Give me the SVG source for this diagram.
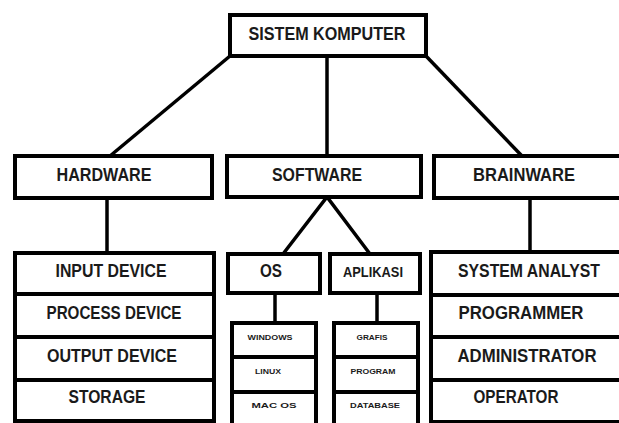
<svg xmlns="http://www.w3.org/2000/svg" width="619" height="423" viewBox="0 0 619 423">
<style>
.box{fill:#fff;stroke:#000;stroke-width:4;stroke-linejoin:miter}
.ln{stroke:#000;stroke-width:3.5;fill:none}
.t{font-family:"Liberation Sans",Arial,sans-serif;font-weight:bold;fill:#1a1a1a;text-anchor:middle;font-size:18px}
.s{font-family:"Liberation Sans",Arial,sans-serif;font-weight:bold;fill:#1a1a1a;text-anchor:middle;font-size:8px}
</style>
<rect width="619" height="423" fill="#fff"/>
<g id="connectors">
<line class="ln" x1="230" y1="56" x2="110" y2="156"/>
<line class="ln" x1="327" y1="56" x2="327" y2="156"/>
<line class="ln" x1="426" y1="56" x2="522" y2="156"/>
<line class="ln" x1="107" y1="198" x2="107" y2="253"/>
<polyline class="ln" points="283,254 327,197 370,254"/>
<line class="ln" x1="275" y1="293" x2="275" y2="323"/>
<line class="ln" x1="377" y1="293" x2="377" y2="323"/>
<line class="ln" x1="530" y1="198" x2="530" y2="252"/>
</g>
<g id="sistem-komputer"><rect class="box" x="230" y="15" width="196" height="41"/><text class="t" x="327" y="40" textLength="157" lengthAdjust="spacingAndGlyphs">SISTEM KOMPUTER</text></g>
<g id="hardware"><rect class="box" x="15" y="156" width="197" height="42"/><text class="t" x="104" y="181" textLength="95" lengthAdjust="spacingAndGlyphs">HARDWARE</text></g>
<g id="software"><rect class="box" x="227" y="156" width="194" height="41"/><text class="t" x="317" y="181" textLength="90" lengthAdjust="spacingAndGlyphs">SOFTWARE</text></g>
<g id="brainware"><rect class="box" x="434" y="156" width="195" height="42"/><text class="t" x="524" y="181" textLength="102" lengthAdjust="spacingAndGlyphs">BRAINWARE</text></g>
<g id="hardware-list">
<rect class="box" x="15" y="253" width="199" height="41"/><text class="t" x="111" y="277" textLength="111" lengthAdjust="spacingAndGlyphs">INPUT DEVICE</text>
<rect class="box" x="15" y="294" width="199" height="43"/><text class="t" x="114" y="319" textLength="135" lengthAdjust="spacingAndGlyphs">PROCESS DEVICE</text>
<rect class="box" x="15" y="337" width="199" height="43"/><text class="t" x="112" y="362" textLength="130" lengthAdjust="spacingAndGlyphs">OUTPUT DEVICE</text>
<rect class="box" x="15" y="380" width="199" height="41"/><text class="t" x="107" y="403" textLength="77" lengthAdjust="spacingAndGlyphs">STORAGE</text>
</g>
<g id="os"><rect class="box" x="228" y="254" width="92" height="39"/><text class="t" x="271" y="277" textLength="22" lengthAdjust="spacingAndGlyphs">OS</text></g>
<g id="aplikasi"><rect class="box" x="330" y="254" width="90" height="39"/><text class="t" x="373" y="277" style="font-size:15px" textLength="60" lengthAdjust="spacingAndGlyphs">APLIKASI</text></g>
<g id="os-list">
<rect class="box" x="232" y="323" width="84" height="34"/><text class="s" x="270" y="340" textLength="45" lengthAdjust="spacingAndGlyphs">WINDOWS</text>
<rect class="box" x="232" y="357" width="84" height="35"/><text class="s" x="268" y="374" textLength="26" lengthAdjust="spacingAndGlyphs">LINUX</text>
<rect class="box" x="232" y="392" width="84" height="40"/><text class="s" x="274" y="408" textLength="45" lengthAdjust="spacingAndGlyphs">MAC OS</text>
</g>
<g id="aplikasi-list">
<rect class="box" x="334" y="323" width="84" height="34"/><text class="s" x="372" y="340" textLength="31" lengthAdjust="spacingAndGlyphs">GRAFIS</text>
<rect class="box" x="334" y="357" width="84" height="35"/><text class="s" x="373" y="374" textLength="45" lengthAdjust="spacingAndGlyphs">PROGRAM</text>
<rect class="box" x="334" y="392" width="84" height="40"/><text class="s" x="375" y="408" textLength="50" lengthAdjust="spacingAndGlyphs">DATABASE</text>
</g>
<g id="brainware-list">
<rect class="box" x="431" y="252" width="198" height="43"/><text class="t" x="529" y="277" textLength="142" lengthAdjust="spacingAndGlyphs">SYSTEM ANALYST</text>
<rect class="box" x="431" y="295" width="198" height="42"/><text class="t" x="521" y="319" textLength="125" lengthAdjust="spacingAndGlyphs">PROGRAMMER</text>
<rect class="box" x="431" y="337" width="198" height="43"/><text class="t" x="527" y="362" textLength="139" lengthAdjust="spacingAndGlyphs">ADMINISTRATOR</text>
<rect class="box" x="431" y="380" width="198" height="42"/><text class="t" x="516" y="403" textLength="85" lengthAdjust="spacingAndGlyphs">OPERATOR</text>
</g>
</svg>
